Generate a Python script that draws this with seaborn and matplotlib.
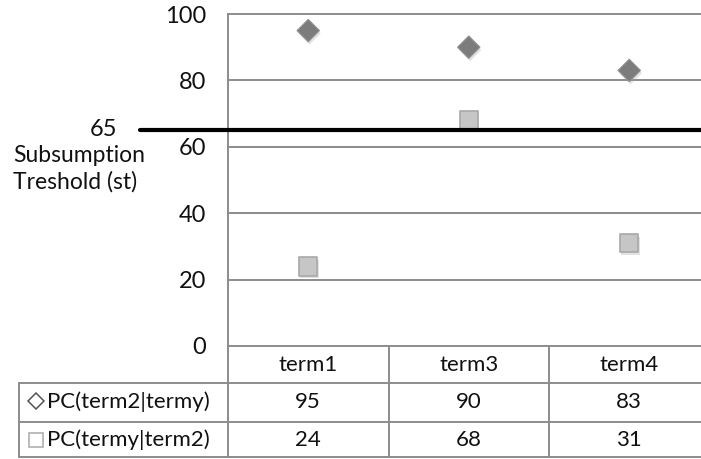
import matplotlib
matplotlib.use("Agg")
import matplotlib.pyplot as plt
import matplotlib.patheffects as pe
import seaborn as sns
import pandas as pd

# Data
terms = ["term1", "term3", "term4"]
pc_term2_given_y = [95, 90, 83]
pc_y_given_term2 = [24, 68, 31]
series_names = ["PC(term2|termy)", "PC(termy|term2)"]
threshold = 65
y_ticks = [0, 20, 40, 60, 80, 100]

df = pd.DataFrame({
    "term": terms * 2,
    "value": pc_term2_given_y + pc_y_given_term2,
    "series": [series_names[0]] * 3 + [series_names[1]] * 3,
})

sns.set_theme(style="white")
plt.rcParams["font.family"] = ["Lato", "DejaVu Sans"]

W, H = 701, 459
fig = plt.figure(figsize=(W / 100, H / 100), dpi=100)

# plot area in pixel terms
left_px, top_px, bottom_px = 228, 14, 346
col_w = 160.5
right_px = left_px + 3 * col_w
ax = fig.add_axes([left_px / W, 1 - bottom_px / H,
                   (right_px - left_px) / W, (bottom_px - top_px) / H])

txt_c = "#111111"
grid_c = "#8c8c8c"
ax.set_ylim(0, 100)
ax.set_xlim(-0.5, 2.5)
ax.set_yticks(y_ticks)
ax.set_yticklabels([str(t) for t in y_ticks], fontsize=17, color=txt_c)
ax.tick_params(axis="y", length=0, pad=16)
ax.set_xticks([])
for y in y_ticks:
    ax.axhline(y, color=grid_c, lw=1.4, zorder=1, clip_on=False)
for s in ["top", "right", "bottom"]:
    ax.spines[s].set_visible(False)
ax.spines["left"].set_color(grid_c)
ax.spines["left"].set_linewidth(1.4)

shadow = [pe.SimplePatchShadow(offset=(1, -2), shadow_rgbFace="#a0a0a0", alpha=0.3), pe.Normal()]

sns.scatterplot(data=df[df["series"] == series_names[0]], x="term", y="value",
                marker="D", s=130, color="#7c7c7c", edgecolor="#909090",
                linewidth=0.8, ax=ax, legend=False, zorder=5)
sns.scatterplot(data=df[df["series"] == series_names[1]], x="term", y="value",
                marker="s", s=175, color="#c6c6c6", edgecolor="#a8a8a8",
                linewidth=1.2, ax=ax, legend=False, zorder=5)
for coll in ax.collections:
    coll.set_path_effects(shadow)
ax.set_xlim(-0.5, 2.5)
ax.set_xlabel("")
ax.set_ylabel("")

# threshold line, reaching out past the axis to its label
x0_axes = (140 - left_px) / (right_px - left_px)
ax.axhline(threshold, xmin=x0_axes, xmax=1, color="black", lw=3, zorder=6, clip_on=False)
fig.text(117 / W, 1 - 129 / H, str(threshold), fontsize=17, ha="right", va="center", color=txt_c)
fig.text(13 / W, 1 - 155 / H, "Subsumption", fontsize=16.5, ha="left", va="center", color=txt_c)
fig.text(13 / W, 1 - 182 / H, "Treshold (st)", fontsize=16.5, ha="left", va="center", color=txt_c)

# data table underneath the plot
line_c = "#8c8c8c"
px = lambda x: x / W
py = lambda y: 1 - y / H
tbl_left = 19
for yl in (383, 422, 457):
    fig.add_artist(plt.Line2D([px(tbl_left), 1], [py(yl), py(yl)], color=line_c, lw=1.4))
fig.add_artist(plt.Line2D([px(tbl_left), px(tbl_left)], [py(383), py(457)], color=line_c, lw=1.4))
fig.add_artist(plt.Line2D([px(left_px), px(left_px)], [py(346), py(457)], color=line_c, lw=1.4))
for i in range(1, 3):
    xb = left_px + i * col_w
    fig.add_artist(plt.Line2D([px(xb), px(xb)], [py(346), py(457)], color=line_c, lw=1.4))

for i, t in enumerate(terms):
    xc = left_px + (i + 0.5) * col_w
    fig.text(px(xc), py(365), t, fontsize=16, ha="center", va="center", color=txt_c)
    fig.text(px(xc), py(402), str(pc_term2_given_y[i]), fontsize=16, ha="center", va="center", color=txt_c)
    fig.text(px(xc), py(440), str(pc_y_given_term2[i]), fontsize=16, ha="center", va="center", color=txt_c)

fig.text(px(47), py(402), series_names[0], fontsize=16, ha="left", va="center", color=txt_c)
fig.text(px(47), py(440), series_names[1], fontsize=16, ha="left", va="center", color=txt_c)
fig.add_artist(plt.Line2D([px(36)], [py(401)], marker="D", ms=8.5, mfc="white", mec="#555555", mew=1.1))
fig.add_artist(plt.Line2D([px(36)], [py(440)], marker="s", ms=10, mfc="white", mec="#aaaaaa", mew=1.1))

fig.savefig("out.png", dpi=100)
